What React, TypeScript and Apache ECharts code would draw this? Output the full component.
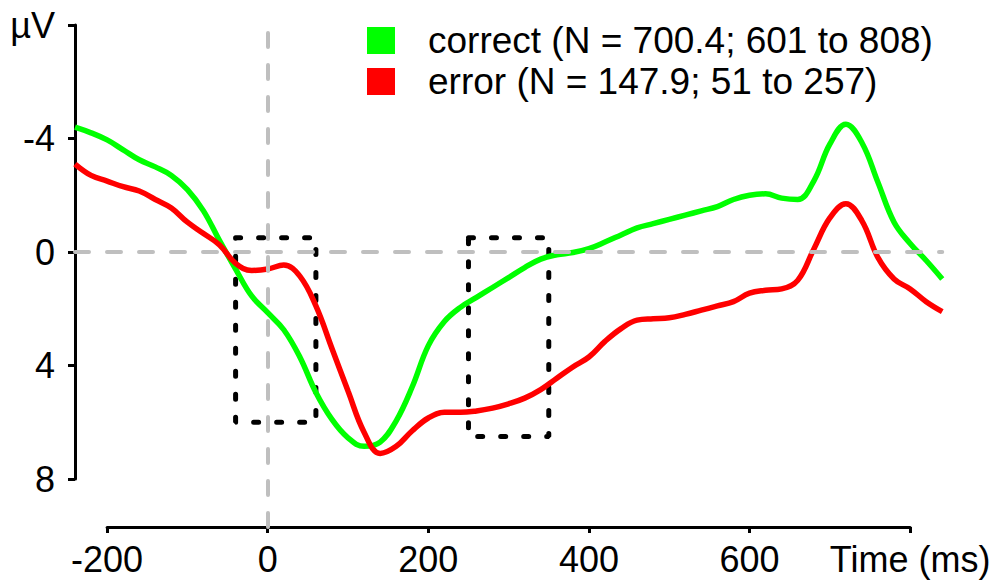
import React, { useEffect, useRef } from "react";
import * as echarts from "echarts";

const times = [
  -240, -220, -200, -180, -160, -140, -120, -100, -80, -60, -40, -20, 0, 20, 40, 60, 80, 100, 120, 140,
  160, 180, 200, 220, 240, 260, 280, 300, 320, 340, 360, 380, 400, 420, 440, 460, 480, 500, 520, 540,
  560, 580, 600, 620, 640, 660, 680, 700, 720, 740, 760, 780, 800, 820, 840,
];

const correctValues = [
  -4.4, -4.2, -3.95, -3.6, -3.25, -3.0, -2.7, -2.2, -1.45, -0.4, 0.6, 1.55, 2.14, 2.74, 3.7, 4.95, 5.9, 6.55, 6.85, 6.7,
  5.95, 4.75, 3.3, 2.45, 1.95, 1.6, 1.25, 0.9, 0.55, 0.25, 0.1, 0.02, -0.12, -0.35, -0.6, -0.85, -1.0, -1.15, -1.3, -1.45,
  -1.6, -1.85, -2.0, -2.05, -1.9, -1.85, -2.5, -3.8, -4.5, -3.85, -2.45, -1.05, -0.3, 0.3, 0.95,
];

const errorValues = [
  -3.1, -2.7, -2.5, -2.3, -2.15, -1.85, -1.55, -1.05, -0.65, -0.25, 0.4, 0.65, 0.6, 0.46, 0.85, 1.9, 3.4, 4.9, 6.35, 7.1,
  6.85, 6.3, 5.85, 5.65, 5.65, 5.6, 5.5, 5.35, 5.15, 4.85, 4.45, 4.05, 3.7, 3.15, 2.7, 2.4, 2.35, 2.32, 2.2, 2.05,
  1.9, 1.75, 1.45, 1.35, 1.3, 1.0, -0.1, -1.2, -1.7, -1.1, 0.2, 0.95, 1.3, 1.75, 2.1,
];

const seriesNames = ["correct (N = 700.4; 601 to 808)", "error (N = 147.9; 51 to 257)"];

// analysis windows (ms) and their vertical extent (µV)
const box1X = [-40, 60];
const box1Y = [-0.5, 6];
const box2X = [250, 350];
const box2Y = [-0.5, 6.5];

const yTicks = [-8, -4, 0, 4, 8];
const xTicks = [-200, 0, 200, 400, 600, 800];

const FONT = "'Liberation Sans', Arial, Helvetica, sans-serif";

function boxPath(bx: number[], by: number[]) {
  return [
    [bx[0], by[0]],
    [bx[1], by[0]],
    [bx[1], by[1]],
    [bx[0], by[1]],
    [bx[0], by[0]],
  ];
}

export default function App() {
  const ref = useRef<HTMLDivElement>(null);

  useEffect(() => {
    if (!ref.current) return;
    const chart = echarts.init(ref.current, null, { renderer: "svg" });

    const pxPerMs = 0.803;
    const dataMin = times[0];
    const dataMax = times[times.length - 1];
    const plotLeft = 75;
    const axisLeft = plotLeft + (xTicks[0] - dataMin) * pxPerMs;

    const boxStyle = {
      color: "#000",
      width: 5,
      type: [5, 18] as any,
      cap: "round" as any,
    };

    const dashStyle = { color: "#bfbfbf", width: 4, type: [14, 18] as any, cap: "round" as any };

    chart.setOption({
      animation: false,
      backgroundColor: "#fff",
      textStyle: { fontFamily: FONT },
      legend: {
        data: seriesNames,
        orient: "vertical",
        left: 367,
        top: 22,
        padding: 0,
        icon: "rect",
        itemWidth: 28,
        itemHeight: 27,
        itemGap: 4,
        textStyle: { fontSize: 37, color: "#000", fontFamily: FONT, padding: [0, 0, 0, 28] },
        selectedMode: false,
      },
      grid: [
        {
          left: plotLeft,
          top: 25,
          width: (dataMax - dataMin) * pxPerMs,
          height: 454,
          containLabel: false,
        },
        {
          left: axisLeft,
          top: 18,
          width: (xTicks[xTicks.length - 1] - xTicks[0]) * pxPerMs,
          height: 509,
          containLabel: false,
        },
      ],
      xAxis: [
        {
          gridIndex: 0,
          type: "value",
          min: dataMin,
          max: dataMax,
          show: false,
        },
        {
          gridIndex: 1,
          type: "value",
          min: xTicks[0],
          max: xTicks[xTicks.length - 1],
          interval: 200,
          position: "bottom",
          axisLine: { show: true, onZero: false, lineStyle: { color: "#000", width: 3 } },
          axisTick: { show: true, length: 6, lineStyle: { color: "#000", width: 3 } },
          splitLine: { show: false },
          axisLabel: {
            fontSize: 36,
            color: "#000",
            fontFamily: FONT,
            margin: 14,
            showMinLabel: true,
            showMaxLabel: true,
            formatter: (v: number) => (v === 800 ? "Time (ms)" : String(v)),
          },
        },
      ],
      yAxis: [
        {
          gridIndex: 0,
          type: "value",
          min: yTicks[0],
          max: yTicks[yTicks.length - 1],
          interval: 4,
          inverse: true,
          position: "left",
          axisLine: { show: true, onZero: false, lineStyle: { color: "#000", width: 3 } },
          axisTick: { show: true, length: 7, lineStyle: { color: "#000", width: 3 } },
          splitLine: { show: false },
          axisLabel: {
            fontSize: 36,
            color: "#000",
            fontFamily: FONT,
            margin: 20,
            showMinLabel: true,
            showMaxLabel: true,
            formatter: (v: number) => (v === -8 ? "µV" : String(v)),
          },
        },
        {
          gridIndex: 1,
          type: "value",
          min: 0,
          max: 1,
          show: false,
        },
      ],
      series: [
        {
          type: "line",
          xAxisIndex: 1,
          yAxisIndex: 1,
          data: [],
          silent: true,
          z: 1,
          markLine: {
            silent: true,
            symbol: "none",
            label: { show: false },
            lineStyle: dashStyle,
            data: [{ xAxis: 0 }],
          },
        },
        {
          type: "line",
          xAxisIndex: 0,
          yAxisIndex: 0,
          data: [],
          silent: true,
          z: 1,
          markLine: {
            silent: true,
            symbol: "none",
            label: { show: false },
            lineStyle: dashStyle,
            data: [{ yAxis: 0 }],
          },
        },
        {
          name: "box1",
          type: "line",
          data: boxPath(box1X, box1Y),
          symbol: "none",
          silent: true,
          z: 2,
          lineStyle: boxStyle,
        },
        {
          name: "box2",
          type: "line",
          data: boxPath(box2X, box2Y),
          symbol: "none",
          silent: true,
          z: 2,
          lineStyle: boxStyle,
        },
        {
          name: seriesNames[0],
          type: "line",
          data: times.map((t, i) => [t, correctValues[i]]),
          smooth: 0.4,
          symbol: "none",
          z: 3,
          color: "#00ff00",
          lineStyle: { color: "#00ff00", width: 5.5 },
        },
        {
          name: seriesNames[1],
          type: "line",
          data: times.map((t, i) => [t, errorValues[i]]),
          smooth: 0.4,
          symbol: "none",
          z: 4,
          color: "#ff0000",
          lineStyle: { color: "#ff0000", width: 5.5 },
        },
      ],
    });

    return () => chart.dispose();
  }, []);

  return (
    <div
      ref={ref}
      style={{ position: "absolute", left: 0, top: 0, width: 997, height: 581, background: "#fff" }}
    />
  );
}
